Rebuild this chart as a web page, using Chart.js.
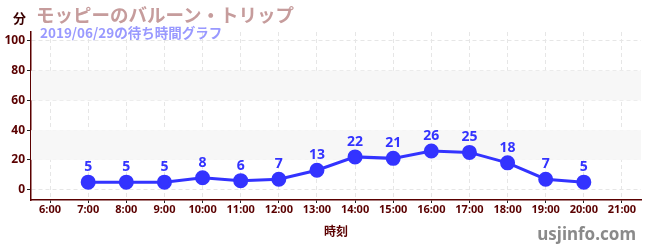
<!DOCTYPE html>
<html>
<head>
<meta charset="utf-8">
<script src="https://cdn.jsdelivr.net/npm/chart.js@4/dist/chart.umd.min.js"></script>
<style>
  html, body { margin: 0; padding: 0; background: #fff; }
  #wrap { position: relative; width: 650px; height: 250px; font-family: "Noto Sans CJK JP", "Noto Sans", sans-serif; }
  #chart { position: absolute; left: 0; top: 0; }
  .txt { position: absolute; white-space: nowrap; font-weight: bold; }
  #title { left: 36px; top: 1px; font-size: 18.5px; color: #c69c9c; }
  #subtitle { left: 40px; top: 22px; font-size: 13.5px; color: #9999ff; }
  #unit { left: 13px; top: 8px; font-size: 13px; color: #3a0000; }
  #site { right: 14px; top: 222px; font-size: 17px; color: #8a8a8a; font-family: "Noto Sans", sans-serif; }
</style>
</head>
<body>
<div id="wrap">
  <canvas id="chart" width="650" height="250"></canvas>
  <div class="txt" id="title">モッピーのバルーン・トリップ</div>
  <div class="txt" id="subtitle">2019/06/29の待ち時間グラフ</div>
  <div class="txt" id="unit">分</div>
  <div class="txt" id="site">usjinfo.com</div>
</div>
<script>
const hours = ["6:00", "7:00", "8:00", "9:00", "10:00", "11:00", "12:00", "13:00",
  "14:00", "15:00", "16:00", "17:00", "18:00", "19:00", "20:00", "21:00"];
const waitMinutes = [null, 5, 5, 5, 8, 6, 7, 13, 22, 21, 26, 25, 18, 7, 5, null];
const yTicks = [0, 10, 20, 30, 40, 50, 60, 70, 80, 90, 100];
const bands = [[20, 40], [60, 80]];

const axisColor = "#5a0000";
const lineColor = "#3333ff";

const bandPlugin = {
  id: "bands",
  beforeDatasetsDraw(chart) {
    const { ctx, chartArea, scales } = chart;
    ctx.save();
    ctx.fillStyle = "#f7f7f7";
    bands.forEach(([lo, hi]) => {
      const top = scales.y.getPixelForValue(hi);
      const bottom = scales.y.getPixelForValue(lo);
      ctx.fillRect(chartArea.left, top, chartArea.right - chartArea.left, bottom - top);
    });
    ctx.restore();
  }
};

// value labels above each point
const labelPlugin = {
  id: "pointLabels",
  afterDatasetsDraw(chart) {
    const { ctx } = chart;
    const meta = chart.getDatasetMeta(0);
    ctx.save();
    ctx.fillStyle = lineColor;
    ctx.font = 'bold 14px "Noto Sans", sans-serif';
    ctx.textAlign = "center";
    ctx.textBaseline = "middle";
    meta.data.forEach((pt, i) => {
      const v = waitMinutes[i];
      if (v === null) return;
      ctx.fillText(String(v), pt.x, pt.y - 15);
    });
    ctx.restore();
  }
};

new Chart(document.getElementById("chart"), {
  type: "line",
  data: {
    labels: hours,
    datasets: [{
      data: waitMinutes,
      borderColor: lineColor,
      backgroundColor: lineColor,
      borderWidth: 3,
      pointRadius: 6,
      pointHoverRadius: 6,
      tension: 0,
      spanGaps: false
    }]
  },
  options: {
    responsive: false,
    animation: false,
    events: [],
    layout: { padding: { top: 32, right: 9, left: 0, bottom: 0 } },
    plugins: { legend: { display: false }, tooltip: { enabled: false } },
    scales: {
      x: {
        type: "category",
        offset: true,
        afterFit: (scale) => { scale.height = 50; },
        grid: {
          offset: false,
          color: "#e6e6e6",
          tickColor: "#222",
          tickLength: 3
        },
        border: { color: axisColor, width: 1.5, dash: [4, 3] },
        ticks: {
          color: axisColor,
          font: { family: '"Noto Sans", sans-serif', size: 11, weight: "bold" },
          padding: 0,
          maxRotation: 0,
          autoSkip: false
        },
        title: {
          display: true,
          text: "時刻",
          color: axisColor,
          font: { family: '"Noto Sans CJK JP", sans-serif', size: 12, weight: "bold" },
          padding: { top: 0, bottom: 11 }
        }
      },
      y: {
        min: -7,
        max: 106,
        afterFit: (scale) => { scale.width = 31; },
        afterBuildTicks: (scale) => { scale.ticks = yTicks.map((v) => ({ value: v })); },
        grid: {
          color: (c) => (c.tick && c.tick.value % 20 === 0 ? "#e6e6e6" : "transparent"),
          tickColor: (c) => (c.tick && c.tick.value % 20 === 0 ? "#222" : "#e00000"),
          tickLength: 4
        },
        border: { color: axisColor, width: 1.5, dash: [4, 3] },
        ticks: {
          color: axisColor,
          font: { family: '"Noto Sans", sans-serif', size: 12, weight: "bold" },
          padding: 2,
          callback: (v) => (v % 20 === 0 ? String(v) : "")
        }
      }
    }
  },
  plugins: [bandPlugin, labelPlugin]
});
</script>
</body>
</html>
